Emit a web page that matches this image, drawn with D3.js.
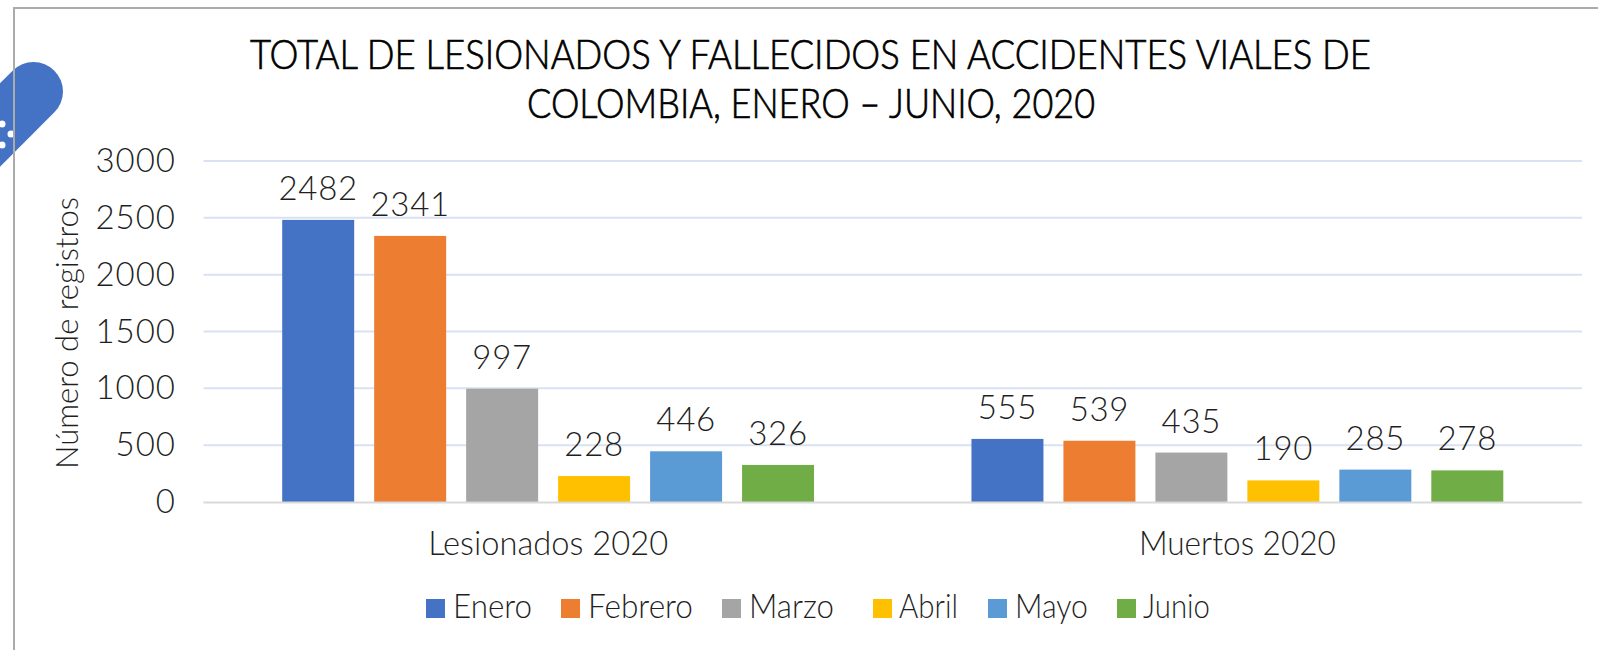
<!DOCTYPE html>
<html><head><meta charset="utf-8">
<script src="https://cdn.jsdelivr.net/npm/d3@7/dist/d3.min.js"></script>
<style>html,body{margin:0;padding:0;background:#fff}svg{display:block}text{font-family:Lato,"Open Sans",sans-serif;font-weight:300}</style>
</head><body><svg id="c" width="1598" height="650"></svg>
<script>
const titleLines = ["TOTAL DE LESIONADOS Y FALLECIDOS EN ACCIDENTES VIALES DE", "COLOMBIA, ENERO – JUNIO, 2020"];
const categories = ["Lesionados 2020", "Muertos 2020"];
const months = ["Enero", "Febrero", "Marzo", "Abril", "Mayo", "Junio"];
const colors = ["#4472C4", "#ED7D31", "#A5A5A5", "#FFC000", "#5B9BD5", "#70AD47"];
const lesionados = [2482, 2341, 997, 228, 446, 326];
const muertos = [555, 539, 435, 190, 285, 278];
const yTicks = [0, 500, 1000, 1500, 2000, 2500, 3000];
const yTitle = "Número de registros";

const svg = d3.select("#c");
const X0 = 203.5, X1 = 1582, Y0 = 502, Y1 = 161;
const ink = "#1f1f1f";

// badge (behind frame)
const badge = svg.append("g");
badge.append("line").attr("x1", 33.5).attr("y1", 91.5).attr("x2", -90).attr("y2", 215)
  .attr("stroke", "#4472C4").attr("stroke-width", 59).attr("stroke-linecap", "round");
[[2,124],[11,134],[2,145]].forEach(([x,y]) => badge.append("circle").attr("cx",x).attr("cy",y).attr("r",3.5).attr("fill","#fff"));

// frame
svg.append("path").attr("d", "M14,650V8H1598").attr("fill","none").attr("stroke","#ABABAB").attr("stroke-width",2);

const y = d3.scaleLinear().domain([0, 3000]).range([Y0, Y1]);
const x = d3.scaleBand().domain(categories).range([X0, X1]).paddingInner(0.2284).paddingOuter(0.1142);
const xm = d3.scaleBand().domain(months).range([0, x.bandwidth()]).paddingInner(20/92);

// gridlines
svg.append("g").selectAll("line").data(yTicks.filter(d => d > 0)).join("line")
  .attr("x1", X0).attr("x2", X1).attr("y1", d => y(d)).attr("y2", d => y(d))
  .attr("stroke", "#D9E2F3").attr("stroke-width", 2);

// y labels
svg.append("g").selectAll("text").data(yTicks).join("text")
  .attr("x", 176).attr("y", d => y(d) + 11).attr("text-anchor", "end")
  .attr("font-size", 33).attr("letter-spacing", 1).attr("fill", ink).text(d => d);

const series = [lesionados, muertos];
const catW = [240, 197];
categories.forEach((c, i) => {
  const g = svg.append("g").attr("transform", `translate(${x(c)},0)`);
  const rows = months.map((m, j) => ({m, v: series[i][j], col: colors[j]}));
  g.selectAll("rect").data(rows).join("rect")
    .attr("x", d => xm(d.m)).attr("width", xm.bandwidth())
    .attr("y", d => y(d.v)).attr("height", d => Y0 - y(d.v))
    .attr("fill", d => d.col);
  g.selectAll("text").data(rows).join("text")
    .attr("x", d => xm(d.m) + xm.bandwidth() / 2).attr("y", d => y(d.v) - 20)
    .attr("text-anchor", "middle").attr("font-size", 33).attr("letter-spacing", 0.7).attr("fill", ink).text(d => d.v);
  svg.append("text").attr("x", x(c) + x.bandwidth() / 2).attr("y", 555)
    .attr("text-anchor", "middle").attr("font-size", 33).attr("fill", ink)
    .attr("textLength", catW[i]).attr("lengthAdjust", "spacingAndGlyphs").text(c);
});

// baseline
svg.append("line").attr("x1", X0).attr("x2", X1).attr("y1", Y0 + 0.5).attr("y2", Y0 + 0.5)
  .attr("stroke", "#D9D9D9").attr("stroke-width", 2);

// y title
svg.append("text").attr("transform", "translate(78,333) rotate(-90)")
  .attr("text-anchor", "middle").attr("font-size", 32).attr("fill", ink)
  .attr("textLength", 272).attr("lengthAdjust", "spacingAndGlyphs").text(yTitle);

// title
const titleSpec = [{x: 250, w: 1121, b: 69}, {x: 527, w: 568, b: 118}];
titleLines.forEach((t, i) => svg.append("text")
  .attr("x", titleSpec[i].x).attr("y", titleSpec[i].b)
  .attr("textLength", titleSpec[i].w).attr("lengthAdjust", "spacingAndGlyphs")
  .attr("stroke", "#000").attr("stroke-width", 0.7)
  .attr("font-size", 42).attr("fill", "#000").text(t));

// legend
const legendSq = [426, 561, 722, 873, 988, 1117];
const legendTx = [453, 588, 749, 899, 1015, 1143];
const legendW = [79, 105, 85, 59, 73, 67];
months.forEach((m, i) => {
  svg.append("rect").attr("x", legendSq[i]).attr("y", 599).attr("width", 19).attr("height", 19).attr("fill", colors[i]);
  svg.append("text").attr("x", legendTx[i]).attr("y", 618).attr("textLength", legendW[i]).attr("lengthAdjust", "spacingAndGlyphs")
    .attr("font-size", 33).attr("fill", ink).text(m);
});
</script></body></html>
